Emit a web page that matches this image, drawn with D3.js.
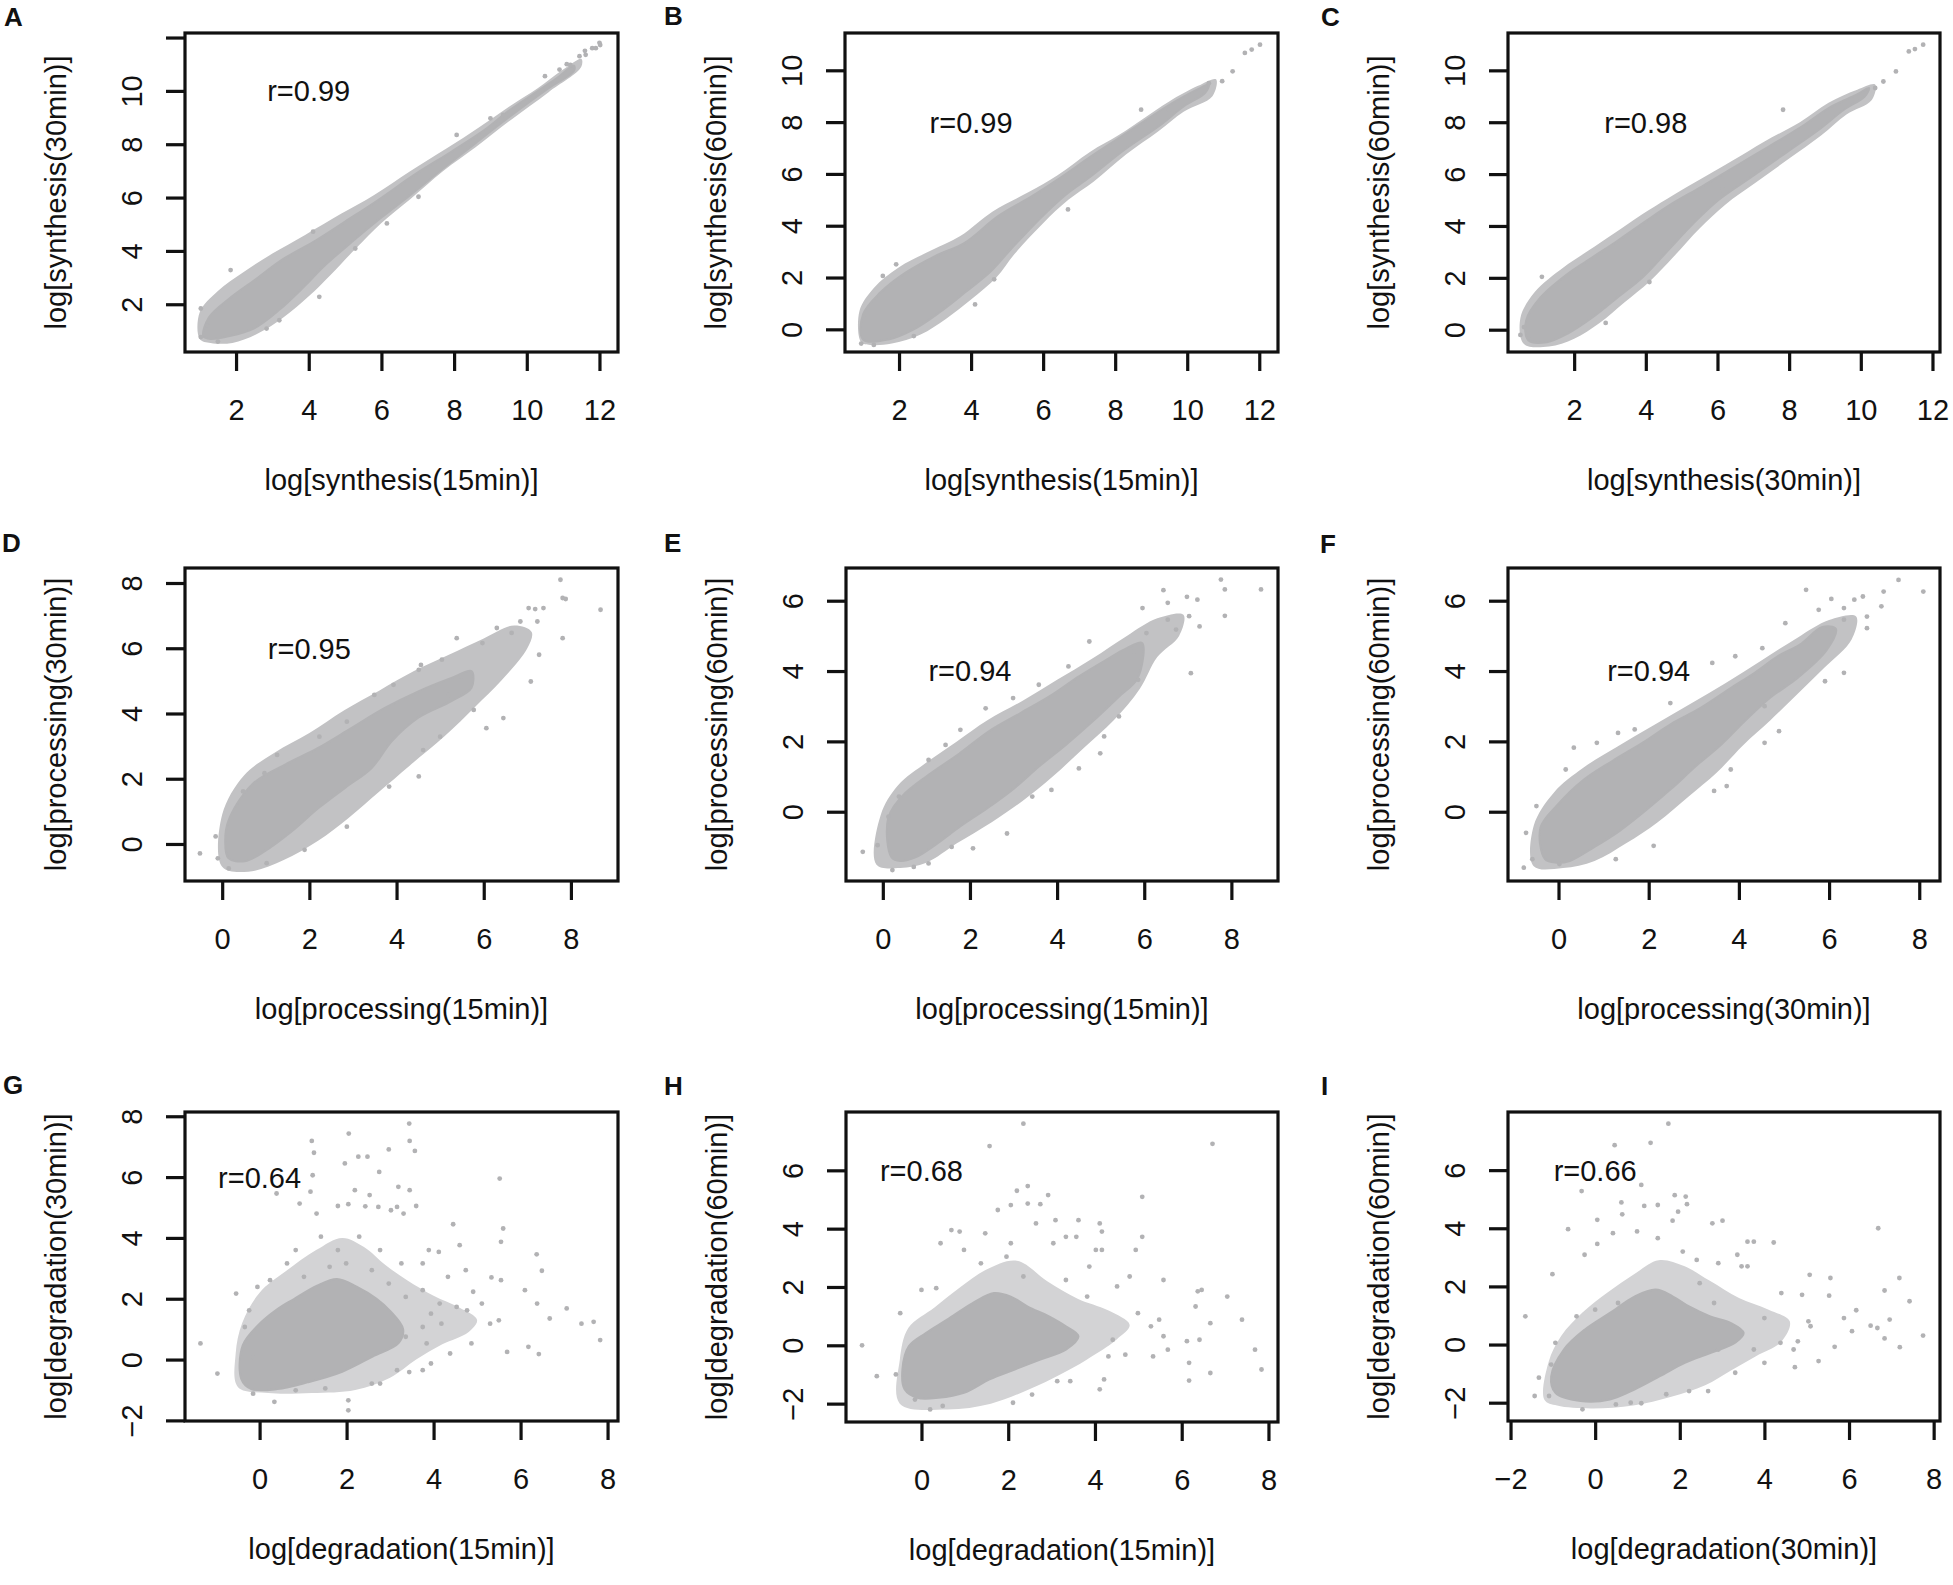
<!DOCTYPE html>
<html>
<head>
<meta charset="utf-8">
<script src="https://cdn.jsdelivr.net/npm/d3@7"></script>
<style>
  html, body { margin: 0; padding: 0; background: #fff; }
  svg text { font-family: 'Liberation Sans', Arial, Helvetica, sans-serif; fill: #111; }
</style>
</head>
<body>
<svg id="fig" width="1953" height="1585"></svg>
<script>
// ---------- panel text ----------
const panelIds = ["A", "B", "C", "D", "E", "F", "G", "H", "I"];
const xTitles = ["log[synthesis(15min)]", "log[synthesis(15min)]", "log[synthesis(30min)]",
                 "log[processing(15min)]", "log[processing(15min)]", "log[processing(30min)]",
                 "log[degradation(15min)]", "log[degradation(15min)]", "log[degradation(30min)]"];
const yTitles = ["log[synthesis(30min)]", "log[synthesis(60min)]", "log[synthesis(60min)]",
                 "log[processing(30min)]", "log[processing(60min)]", "log[processing(60min)]",
                 "log[degradation(30min)]", "log[degradation(60min)]", "log[degradation(60min)]"];
const rValues = ["r=0.99", "r=0.99", "r=0.98", "r=0.95", "r=0.94", "r=0.94", "r=0.64", "r=0.68", "r=0.66"];
const rAt = [[4, 10], [4, 8], [4, 8], [2, 6], [2, 4], [2, 4], [0, 6], [0, 6], [0, 6]];

// ---------- tick values ----------
const xTicks = [[2, 4, 6, 8, 10, 12], [2, 4, 6, 8, 10, 12], [2, 4, 6, 8, 10, 12],
                [0, 2, 4, 6, 8], [0, 2, 4, 6, 8], [0, 2, 4, 6, 8],
                [0, 2, 4, 6, 8], [0, 2, 4, 6, 8], [-2, 0, 2, 4, 6, 8]];
const yTicks = [[2, 4, 6, 8, 10, 12], [0, 2, 4, 6, 8, 10], [0, 2, 4, 6, 8, 10],
                [0, 2, 4, 6, 8], [0, 2, 4, 6], [0, 2, 4, 6],
                [-2, 0, 2, 4, 6, 8], [-2, 0, 2, 4, 6], [-2, 0, 2, 4, 6]];
const yUnlabelled = [[12], [], [], [], [], [], [], [], []];

// ---------- data: solid core outline, speckled fringe outline, single points ----------
const coreA = [[1.1,0.8],[1.25,1.5],[1.8,2.2],[2.5,2.9],[3.3,3.7],[4.2,4.4],[5.0,5.1],[5.9,5.9],[6.9,6.85],[7.9,7.7],[8.8,8.5],[9.5,9.25],[10.2,9.9],[10.8,10.45],[11.3,10.95],
  [11.3,10.75],[10.6,10.1],[9.5,9.0],[8.6,8.05],[7.8,7.2],[6.8,6.1],[6.0,5.25],[5.2,4.35],[4.4,3.4],[3.9,2.7],[3.2,1.8],[2.5,1.1],[1.8,0.8],[1.3,0.7]];
const fringeA = [[1.0,0.7],[1.0,1.7],[1.5,2.5],[2.2,3.2],[3.0,3.9],[3.9,4.6],[4.9,5.4],[5.8,6.1],[6.8,7.0],[7.8,7.85],[8.7,8.65],[9.5,9.4],[10.3,10.1],[11.0,10.8],[11.5,11.2],
  [11.5,10.9],[10.6,9.95],[9.6,8.95],[8.6,7.9],[7.7,7.0],[6.8,5.95],[6.0,5.05],[5.3,4.1],[4.6,3.1],[4.0,2.3],[3.3,1.5],[2.6,0.9],[1.9,0.55],[1.3,0.55]];
const pointsA = [[11.6,11.5],[11.8,11.6],[12.0,11.8],[11.45,11.3],[11.1,11.0],[10.9,10.8],[10.5,10.55],[1.85,3.28],[4.12,4.72],[4.29,2.28],[8.07,8.35],[7.02,6.03],
  [3.19,1.4],[2.84,1.09],[1.03,1.84],[5.28,4.09],[6.15,5.03],[9.0,8.97],[9.35,9.1],[11.2,10.97],[11.62,11.35],[11.9,11.6],[12.02,11.72],[1.03,0.77],[1.5,0.6],[1.2,1.2]];

const coreB = [[1.0,-0.39],[1.0,0.58],[1.47,1.41],[2.18,2.19],[3.0,2.83],[3.82,3.34],[4.75,4.37],[5.69,5.14],[6.4,5.78],[7.33,6.68],[8.04,7.33],[8.74,7.97],[9.44,8.61],[10.27,9.25],[10.6,9.45],
  [10.5,9.13],[9.91,8.61],[9.21,7.84],[8.27,6.94],[7.33,5.91],[6.63,5.2],[5.93,4.3],[5.11,3.1],[4.52,2.2],[3.82,1.41],[3.11,0.64],[2.41,0.0],[1.71,-0.39]];
const fringeB = [[0.95,-0.5],[0.9,0.7],[1.3,1.6],[2.0,2.4],[2.9,3.05],[3.7,3.6],[4.6,4.55],[5.6,5.3],[6.4,5.95],[7.3,6.85],[8.1,7.5],[8.8,8.15],[9.5,8.8],[10.3,9.4],[10.8,9.65],
  [10.7,9.0],[9.9,8.4],[9.2,7.65],[8.3,6.75],[7.4,5.7],[6.7,5.0],[6.0,4.1],[5.2,2.9],[4.7,2.0],[4.0,1.15],[3.3,0.4],[2.6,-0.2],[1.8,-0.55],[1.2,-0.6]];
const pointsB = [[11.6,10.67],[11.79,10.8],[12.02,10.99],[11.26,9.96],[10.97,9.58],[8.72,8.48],[1.92,2.51],[1.55,2.06],[1.12,0.58],[2.41,-0.26],[4.11,0.96],[4.64,1.93],
  [6.69,4.63],[10.6,9.5],[9.5,8.48],[0.95,-0.55],[1.3,-0.6]];

const coreC = [[0.72,-0.41],[0.66,0.36],[1.07,1.26],[1.82,2.16],[2.53,2.81],[3.23,3.45],[4.04,4.23],[4.74,4.87],[5.56,5.52],[6.49,6.29],[7.43,7.06],[8.36,7.84],[9.18,8.61],[9.88,9.06],[10.23,9.32],
  [10.11,8.99],[9.53,8.48],[8.83,7.71],[7.89,6.8],[6.96,5.9],[6.03,5.0],[5.33,4.1],[4.63,3.07],[3.93,2.04],[3.23,1.26],[2.53,0.49],[1.82,-0.15],[1.24,-0.48]];
const fringeC = [[0.6,-0.55],[0.5,0.45],[0.9,1.45],[1.7,2.4],[2.4,3.05],[3.1,3.7],[3.9,4.45],[4.6,5.05],[5.4,5.7],[6.4,6.5],[7.3,7.25],[8.3,8.0],[9.1,8.75],[9.9,9.25],[10.4,9.45],
  [10.3,8.85],[9.6,8.3],[8.9,7.5],[8.0,6.6],[7.1,5.7],[6.2,4.8],[5.5,3.9],[4.8,2.85],[4.1,1.85],[3.4,1.05],[2.7,0.25],[2.0,-0.35],[1.3,-0.65]];
const pointsC = [[11.34,10.73],[11.51,10.82],[11.74,10.99],[10.98,9.96],[10.63,9.57],[7.83,8.48],[1.1,2.04],[0.6,0.1],[0.83,-0.35],[2.88,0.26],[4.1,1.84],[10.4,9.32],[6.14,5.39],[0.5,-0.2]];

const coreD = [[0.14,0.7],[0.68,1.82],[1.44,2.43],[2.21,2.95],[2.97,3.56],[3.73,4.17],[4.5,4.68],[5.26,5.09],[5.72,5.3],
  [5.72,4.79],[5.26,4.38],[4.5,3.87],[3.89,3.15],[3.43,2.33],[2.82,1.72],[2.21,1.1],[1.6,0.39],[0.98,-0.22],[0.52,-0.53],[0.14,-0.43],[0.07,0.08]];
const fringeD = [[0.0,0.9],[0.5,2.1],[1.2,2.8],[2.0,3.4],[2.8,4.1],[3.6,4.7],[4.4,5.3],[5.2,5.8],[6.0,6.3],[6.7,6.7],[7.1,6.5],
  [7.0,6.0],[6.4,5.0],[5.8,4.2],[5.1,3.3],[4.3,2.4],[3.6,1.6],[2.9,0.8],[2.2,0.1],[1.4,-0.5],[0.6,-0.85],[0.0,-0.7]];
const pointsD = [[7.76,8.1],[7.81,7.54],[7.88,7.51],[8.68,7.18],[7.81,6.31],[7.03,7.23],[7.18,7.2],[7.37,7.23],[6.84,6.82],[7.23,6.82],[6.3,6.62],[6.64,6.47],[7.27,5.8],[7.08,4.98],[6.45,3.86],[6.06,3.55],
  [5.38,6.31],[5.48,5.14],[5.77,4.11],[5.0,3.29],[4.61,2.88],[4.51,2.07],[3.83,1.76],[2.86,0.53],[1.89,-0.18],[1.02,-0.59],[0.15,-0.75],[-0.15,0.23],[-0.51,-0.29],[-0.1,-0.44],[0.48,1.61],[0.97,2.17],
  [1.26,2.73],[2.23,3.29],[2.86,3.75],[3.49,4.57],[3.93,4.88],[4.56,5.49],[5.04,5.65],[4.51,5.34],[5.97,6.16],[5.19,4.57]];

const coreE = [[0.2,-1.3],[0.12,-0.2],[0.45,0.45],[1.05,1.05],[1.75,1.65],[2.45,2.3],[3.15,2.8],[3.85,3.3],[4.5,3.85],[5.1,4.3],[5.6,4.65],[5.95,4.8],
  [5.85,3.8],[5.4,3.25],[4.8,2.55],[4.2,1.9],[3.6,1.3],[3.0,0.65],[2.4,0.1],[1.8,-0.4],[1.2,-0.95],[0.75,-1.3],[0.4,-1.4]];
const fringeE = [[-0.15,-1.5],[-0.05,-0.1],[0.35,0.75],[1.0,1.4],[1.7,2.0],[2.4,2.6],[3.2,3.15],[4.0,3.75],[4.8,4.35],[5.6,5.0],[6.3,5.5],[6.9,5.6],
  [6.8,5.0],[6.3,4.4],[5.9,3.5],[5.3,2.6],[4.6,1.8],[3.9,1.0],[3.2,0.3],[2.5,-0.3],[1.7,-0.9],[1.0,-1.45],[0.4,-1.6]];
const pointsE = [[7.76,6.6],[7.85,6.32],[8.68,6.32],[7.85,5.57],[6.44,6.3],[6.98,6.11],[7.22,6.03],[6.54,5.94],[5.96,5.79],[7.03,5.56],[7.27,5.27],[6.54,5.46],[6.73,5.18],[7.07,3.94],[6.05,5.08],[5.76,4.56],
  [4.74,4.84],[4.26,4.13],[3.58,3.61],[2.99,3.23],[2.36,2.94],[1.78,2.33],[1.44,1.9],[1.05,1.47],[0.37,0.43],[0.13,-0.14],[-0.46,-1.14],[-0.12,-0.95],[0.22,-1.66],[0.71,-1.57],[1.05,-1.47],[1.58,-1.0],
  [2.07,-1.04],[2.85,-0.62],[3.43,0.43],[3.87,0.62],[4.5,1.23],[4.99,1.66],[5.08,2.14],[5.42,2.71],[5.86,3.75]];

const coreF = [[-0.3,-1.35],[-0.4,-0.45],[-0.02,0.2],[0.55,0.9],[1.2,1.45],[1.85,1.95],[2.5,2.5],[3.15,2.95],[3.8,3.5],[4.35,3.95],[4.9,4.45],[5.35,4.75],[5.85,5.25],[6.15,5.2],
  [5.95,4.6],[5.25,3.75],[4.7,3.25],[4.15,2.6],[3.6,1.9],[3.05,1.3],[2.5,0.65],[1.9,0.0],[1.35,-0.55],[0.8,-1.0],[0.25,-1.4],[-0.05,-1.45]];
const fringeF = [[-0.55,-1.55],[-0.55,-0.4],[-0.1,0.55],[0.55,1.25],[1.3,1.85],[2.1,2.45],[2.9,3.05],[3.7,3.65],[4.5,4.3],[5.3,4.95],[6.0,5.45],[6.6,5.55],
  [6.5,4.9],[5.9,4.1],[5.3,3.35],[4.7,2.6],[4.1,1.9],[3.5,1.1],[2.9,0.45],[2.2,-0.3],[1.5,-0.9],[0.8,-1.4],[0.1,-1.6]];
const pointsF = [[7.54,6.59],[7.21,6.26],[7.16,5.84],[8.09,6.26],[5.49,6.31],[6.05,6.05],[6.33,5.79],[6.56,6.03],[6.75,6.12],[6.84,5.55],[6.84,5.22],[5.77,5.74],[6.33,5.46],[6.33,3.95],[5.91,3.71],[5.03,5.36],
  [4.52,4.65],[3.41,4.23],[3.92,4.42],[2.48,3.09],[1.69,2.34],[1.32,2.24],[0.85,1.96],[0.34,1.82],[0.16,1.2],[-0.49,0.16],[-0.72,-0.6],[-0.77,-1.59],[-0.58,-1.35],[0.02,-1.49],[1.27,-1.35],[2.11,-0.97],
  [3.45,0.59],[3.73,0.73],[3.82,1.2],[4.57,1.96],[4.89,2.29],[4.57,3.0]];

const coreG = [[-0.42,-0.64],[-0.39,0.46],[-0.04,1.12],[0.41,1.66],[0.79,1.99],[1.32,2.43],[1.78,2.65],[2.23,2.4],[2.69,2.0],[3.0,1.6],[3.3,1.0],[3.2,0.55],[2.6,0.1],[1.9,-0.4],[1.1,-0.75],[0.41,-0.97],[-0.19,-0.97]];
const fringeG = [[-0.5,-0.9],[-0.55,0.2],[-0.4,1.2],[0.0,2.2],[0.6,2.9],[1.3,3.6],[1.9,4.0],[2.4,3.7],[2.9,3.1],[3.4,2.6],[4.0,2.1],[4.6,1.7],[5.0,1.3],[4.8,0.9],[4.2,0.5],[3.6,0.0],[3.0,-0.6],[2.2,-1.0],[1.2,-1.1],[0.2,-1.1]];
const pointsG = [[3.44,7.76],[2.05,7.43],[1.2,7.19],[3.45,7.19],[1.25,6.8],[2.97,6.91],[3.57,6.86],[2.27,6.67],[2.48,6.67],[1.96,6.45],[2.75,6.17],[1.22,6.06],[5.52,5.95],[0.39,5.46],[0.92,5.13],[1.17,5.52],
  [2.19,5.57],[2.53,5.41],[3.19,5.68],[3.45,5.57],[3.6,5.05],[1.8,5.05],[2.04,5.11],[2.43,5.04],[2.73,5.02],[3.02,4.91],[3.16,5.02],[3.31,4.8],[1.31,4.8],[4.45,4.45],[5.6,4.31],[5.55,3.87],[4.6,3.76],
  [6.37,3.46],[3.89,3.6],[4.12,3.54],[6.49,2.92],[3.75,3.16],[3.26,3.16],[4.74,2.94],[5.33,2.7],[5.55,2.61],[4.33,2.72],[6.1,2.28],[6.38,1.84],[7.06,1.68],[6.67,1.35],[7.4,1.18],[7.68,1.24],[7.83,0.64],
  [5.69,0.25],[6.18,0.42],[6.42,0.18],[4.91,2.23],[5.11,1.84],[5.3,1.18],[5.5,1.29],[4.53,1.73],[4.77,1.62],[4.87,0.53],[4.38,0.2],[3.94,-0.13],[3.44,-0.41],[3.16,-0.35],[2.04,-1.34],[2.04,-1.67],
  [0.34,-1.39],[-0.15,-1.12],[-1.36,0.53],[-0.97,-0.46],[-0.54,2.17],[-0.05,2.39],[-0.34,1.07],[0.83,-1.01],[1.51,-0.95],[2.77,-0.79],[3.94,1.51],[3.75,1.07],[3.36,0.75],[4.18,1.18],[3.84,0.53],
  [0.24,2.61],[0.63,3.16],[0.83,3.6],[1.41,4.04],[1.8,3.6],[2.29,4.04],[2.77,3.6],[1.99,3.16],[1.61,3.05],[2.58,2.94],[2.97,2.5],[3.36,2.06],[3.75,2.28],[4.14,1.84],[1.02,2.72],[-0.24,1.62],
  [-0.15,0.09],[2.58,-0.79],[3.75,-0.35]];

const coreH = [[-0.39,-1.51],[-0.44,-0.83],[-0.29,-0.03],[0.1,0.42],[0.59,0.88],[1.18,1.45],[1.67,1.79],[2.06,1.67],[2.45,1.33],[2.94,0.99],[3.33,0.65],[3.62,0.31],[3.33,-0.15],[2.74,-0.49],[2.15,-0.83],[1.57,-1.17],[0.98,-1.63],[0.39,-1.8],[-0.1,-1.8]];
const fringeH = [[-0.5,-2.0],[-0.5,-0.5],[-0.3,0.6],[0.3,1.3],[0.9,2.0],[1.5,2.6],[2.2,2.9],[2.9,2.2],[3.6,1.6],[4.3,1.2],[4.8,0.7],[4.5,0.2],[3.8,-0.5],[3.2,-1.0],[2.5,-1.5],[1.6,-2.0],[0.6,-2.2]];
const pointsH = [[2.35,7.6],[1.57,6.83],[6.71,6.91],[2.45,5.46],[2.2,5.3],[2.92,5.15],[2.45,4.86],[2.74,4.84],[5.09,5.09],[2.06,4.81],[1.76,4.64],[0.69,3.95],[0.88,3.9],[0.44,3.5],[1.47,3.84],[2.06,3.5],
  [2.64,4.18],[3.09,4.29],[3.62,4.29],[4.11,4.18],[4.16,3.9],[5.09,3.72],[3.33,3.72],[3.57,3.72],[3.04,3.5],[4.02,3.27],[4.16,3.27],[4.94,3.27],[3.87,2.7],[5.58,2.24],[6.37,1.85],[6.46,1.9],[7.05,1.67],
  [6.32,1.33],[7.39,0.88],[6.66,0.76],[6.12,0.14],[6.41,0.19],[7.69,-0.15],[7.84,-0.83],[6.66,-0.95],[6.17,-0.6],[6.17,-1.21],[5.68,-0.15],[5.34,-0.38],[5.58,0.31],[5.29,0.65],[5.48,0.88],[4.99,1.1],
  [4.7,-0.32],[4.41,0.19],[4.31,-0.38],[4.21,-1.17],[4.11,-1.51],[3.43,-1.23],[3.13,-1.23],[2.55,-1.69],[2.11,-1.97],[0.2,-2.2],[-0.49,1.1],[0.0,1.9],[0.34,1.96],[-1.37,0.0],[-1.03,-1.06],[-0.59,-1.0],
  [-0.15,-1.86],[0.49,-2.08],[4.8,2.36],[4.51,2.02],[3.82,1.67],[3.33,2.24],[0.98,3.27],[1.37,2.81],[1.96,3.04],[2.35,2.36]];

const coreI = [[-0.94,-1.66],[-1.04,-1.09],[-0.74,-0.17],[-0.25,0.51],[0.35,1.09],[0.94,1.66],[1.43,1.89],[1.83,1.66],[2.22,1.31],[2.72,0.97],[3.21,0.74],[3.51,0.4],[3.31,0.06],[2.72,-0.29],[2.12,-0.63],[1.53,-1.09],[0.94,-1.54],[0.35,-1.89],[-0.35,-1.94]];
const fringeI = [[-1.2,-1.9],[-1.1,-0.6],[-0.8,0.3],[-0.3,1.1],[0.3,1.8],[0.9,2.4],[1.5,2.9],[2.1,2.7],[2.7,2.2],[3.4,1.6],[4.1,1.2],[4.6,0.8],[4.4,0.1],[3.8,-0.4],[3.2,-0.9],[2.6,-1.4],[1.8,-1.8],[0.9,-2.1],[-0.1,-2.2],[-0.9,-2.1]];
const pointsI = [[1.73,7.6],[0.46,6.86],[1.31,6.94],[1.09,5.49],[-0.32,5.28],[1.88,5.14],[2.14,5.09],[0.62,4.89],[1.16,4.77],[1.48,4.8],[2.17,4.83],[1.96,4.57],[0.64,4.48],[0.05,4.29],[-0.64,3.97],[1.83,4.26],
  [2.77,4.17],[3.01,4.26],[0.42,3.83],[0.99,3.89],[1.48,3.66],[3.6,3.54],[3.75,3.54],[4.22,3.51],[6.69,4.0],[0.05,3.46],[-0.25,3.09],[2.07,3.2],[2.4,2.91],[3.36,3.09],[2.91,2.8],[3.46,2.69],[3.6,2.69],
  [-1.01,2.42],[5.07,2.4],[5.56,2.29],[7.19,2.29],[6.84,1.86],[7.43,1.49],[4.89,1.71],[5.53,1.68],[4.4,1.77],[6.17,1.18],[5.88,0.91],[6.96,0.86],[6.51,0.65],[7.75,0.31],[6.67,0.57],[6.84,0.21],[7.2,-0.09],
  [5.66,-0.08],[6.07,0.46],[5.09,0.63],[5.04,0.8],[4.79,0.11],[5.28,-0.57],[4.69,-0.17],[4.72,-0.78],[4.38,0.06],[4.0,-0.63],[3.75,-0.17],[3.31,-0.97],[2.67,-1.6],[2.22,-1.6],[1.68,-1.71],[1.09,-2.02],
  [0.84,-2.0],[0.49,-2.06],[-0.3,-2.23],[-1.09,-1.77],[-1.43,-1.77],[-1.33,-1.14],[-1.65,0.97],[-0.94,0.06],[-1.04,-0.69],[-0.44,0.97],[0.0,1.2],[0.54,1.43],[2.47,2.11],[2.81,1.43],[2.91,-0.17],[4.0,0.91]];

const cores   = [coreA, coreB, coreC, coreD, coreE, coreF, coreG, coreH, coreI];
const fringes = [fringeA, fringeB, fringeC, fringeD, fringeE, fringeF, fringeG, fringeH, fringeI];
const singles = [pointsA, pointsB, pointsC, pointsD, pointsE, pointsF, pointsG, pointsH, pointsI];

// ---------- layout (pixel boxes and plotted ranges, as R drew them) ----------
const layout = [
  { box: [185, 618, 33, 352],     xd: [0.595, 12.51], yd: [0.21, 12.17],  lab: [4, 26] },
  { box: [845, 1278, 33, 352],    xd: [0.5, 12.52],   yd: [-0.875, 11.44], lab: [664, 25] },
  { box: [1508, 1940, 33, 352],   xd: [0.154, 12.21], yd: [-0.86, 11.44], lab: [1321, 26] },
  { box: [185, 618, 568, 881],    xd: [-0.853, 9.08], yd: [-1.135, 8.46], lab: [2, 552] },
  { box: [846, 1278, 568, 881],   xd: [-0.845, 9.07], yd: [-1.97, 6.93],  lab: [664, 552] },
  { box: [1508, 1940, 568, 881],  xd: [-1.12, 8.46],  yd: [-1.97, 6.93],  lab: [1320, 553] },
  { box: [185, 618, 1112, 1421],  xd: [-1.715, 8.24], yd: [-2.02, 8.14],  lab: [3, 1094] },
  { box: [846, 1278, 1112, 1422], xd: [-1.74, 8.22],  yd: [-2.63, 8.0],   lab: [664, 1095] },
  { box: [1508, 1940, 1112, 1421],xd: [-2.06, 8.15],  yd: [-2.63, 8.0],   lab: [1321, 1095] }
];

const POINT = "#b2b2b4";
const FRINGE_TIGHT = "#c2c2c4";   // rows 1-2: nearly solid speckle
const FRINGE_LOOSE = "#d3d3d5";   // row 3: sparse speckle
const FS = 29;

const svg = d3.select("#fig");
const fmt = v => (v < 0 ? "\u2212" + Math.abs(v) : String(v));

panelIds.forEach(function(id, i) {
  const L = layout[i];
  const [x0, x1, y0, y1] = L.box;
  const x = d3.scaleLinear().domain(L.xd).range([x0, x1]);
  const y = d3.scaleLinear().domain(L.yd).range([y1, y0]);
  const g = svg.append("g").attr("class", "panel panel-" + id);

  const clipId = "clip" + id;
  g.append("clipPath").attr("id", clipId)
    .append("rect").attr("x", x0).attr("y", y0).attr("width", x1 - x0).attr("height", y1 - y0);
  const plot = g.append("g").attr("clip-path", "url(#" + clipId + ")");

  const area = d3.line().x(d => x(d[0])).y(d => y(d[1])).curve(d3.curveCatmullRomClosed.alpha(0.5));

  plot.append("path").datum(fringes[i]).attr("d", area)
    .attr("fill", i < 6 ? FRINGE_TIGHT : FRINGE_LOOSE).attr("stroke", "none");
  plot.append("path").datum(cores[i]).attr("d", area)
    .attr("fill", POINT).attr("stroke", POINT).attr("stroke-width", 2).attr("stroke-linejoin", "round");
  plot.selectAll("circle.pt").data(singles[i]).join("circle")
    .attr("class", "pt")
    .attr("cx", d => x(d[0])).attr("cy", d => y(d[1]))
    .attr("r", 2.4).attr("fill", POINT);

  // box
  g.append("rect").attr("x", x0).attr("y", y0).attr("width", x1 - x0).attr("height", y1 - y0)
    .attr("fill", "none").attr("stroke", "#111").attr("stroke-width", 3.2);

  // bottom axis
  const xa = g.append("g").attr("transform", "translate(0," + y1 + ")")
    .call(d3.axisBottom(x).tickValues(xTicks[i]).tickFormat(fmt).tickSize(19).tickPadding(28));
  xa.select(".domain").remove();
  xa.selectAll(".tick line").attr("stroke", "#111").attr("stroke-width", 3.2);
  xa.selectAll(".tick text").attr("font-size", FS).attr("font-family", null).attr("fill", "#111");

  // left axis, labels parallel to the axis
  const ya = g.append("g").attr("transform", "translate(" + x0 + ",0)")
    .call(d3.axisLeft(y).tickValues(yTicks[i]).tickFormat(v => yUnlabelled[i].includes(v) ? "" : fmt(v)).tickSize(19));
  ya.select(".domain").remove();
  ya.selectAll(".tick line").attr("stroke", "#111").attr("stroke-width", 3.2);
  ya.selectAll(".tick text")
    .attr("font-size", FS).attr("font-family", null).attr("fill", "#111")
    .attr("x", null).attr("dy", null).attr("text-anchor", "middle")
    .attr("transform", "translate(-43.5,0) rotate(-90)");

  // titles
  g.append("text").attr("x", (x0 + x1) / 2).attr("y", y1 + 138)
    .attr("text-anchor", "middle").attr("font-size", FS).text(xTitles[i]);
  g.append("text").attr("text-anchor", "middle").attr("font-size", FS)
    .attr("transform", "translate(" + (x0 - 119) + "," + ((y0 + y1) / 2) + ") rotate(-90)")
    .text(yTitles[i]);

  // correlation
  g.append("text").attr("x", x(rAt[i][0])).attr("y", y(rAt[i][1])).attr("dy", "0.36em")
    .attr("text-anchor", "middle").attr("font-size", FS).text(rValues[i]);

  // panel letter
  g.append("text").attr("x", L.lab[0]).attr("y", L.lab[1])
    .attr("font-size", 26).attr("font-weight", "bold").text(id);
});
</script>
</body>
</html>
